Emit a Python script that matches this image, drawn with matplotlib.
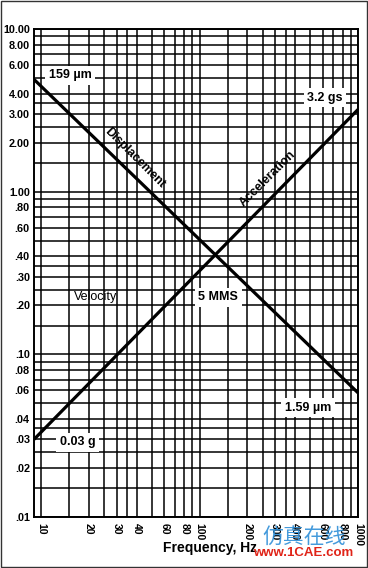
#vibration chart: displacement / velocity / acceleration on log-log paper
import matplotlib.pyplot as plt
from matplotlib.ticker import FixedLocator, NullFormatter
from matplotlib.patches import Rectangle

freq_ends=[9.0,1000.0]
displacement=[4.9,0.058]
acceleration=[0.03,3.2]
xticks=[10,20,30,40,60,80,100,200,300,400,600,800,1000]
xlabels=['10','20','30','40','60','80','100','200','300','400','600','800','1000']
yticks=[10,8,6,4,3,2,1,0.8,0.6,0.4,0.3,0.2,0.1,0.08,0.06,0.04,0.03,0.02,0.01]
ylabels=['10.00','8.00','6.00','4.00','3.00','2.00','1.00','.80','.60','.40','.30','.20',
         '.10','.08','.06','.04','.03','.02','.01']
steps=[1,1.5,2,2.5,3,3.5,4,5,6,7,8,9]
gridx=[s*d for d in (10,100) for s in steps]+[1000]
gridy=[s*d for d in (0.01,0.1,1) for s in steps]+[10]

plt.rcParams['font.family']=['Liberation Sans','DejaVu Sans']
fig=plt.figure(figsize=(3.68,5.68),dpi=100)
ax=fig.add_axes([34/368,51/568,324/368,488/568])
ax.set_xscale('log')
ax.set_yscale('log')
ax.set_xlim(9.0,1000)
ax.set_ylim(0.01,10)

ax.xaxis.set_major_locator(FixedLocator(xticks))
ax.xaxis.set_minor_locator(FixedLocator(gridx))
ax.xaxis.set_minor_formatter(NullFormatter())
ax.set_xticklabels(xlabels,rotation=270,fontsize=7.5,fontweight='bold')
ax.yaxis.set_major_locator(FixedLocator(yticks))
ax.yaxis.set_minor_locator(FixedLocator(gridy))
ax.yaxis.set_minor_formatter(NullFormatter())
ax.set_yticklabels(ylabels,fontsize=7.8,fontweight='bold')
ax.tick_params(which='both',length=0)
ax.tick_params(axis='x',pad=4)
ax.tick_params(axis='y',pad=3)
ax.grid(True,which='both',color='black',linewidth=1.1)
for s in ax.spines.values():
    s.set_linewidth(1.4)

ax.plot(freq_ends,displacement,color='black',linewidth=2.3,solid_capstyle='butt')
ax.plot(freq_ends,acceleration,color='black',linewidth=2.3,solid_capstyle='butt')

box=dict(facecolor='white',edgecolor='none',pad=2.5)
ax.text(15.2,5.2,'159 µm',fontsize=9,fontweight='bold',ha='center',va='center',bbox=box)
ax.text(620,3.77,'3.2 gs',fontsize=9,fontweight='bold',ha='center',va='center',bbox=box)
ax.text(483,0.0468,'1.59 µm',fontsize=9,fontweight='bold',ha='center',va='center',bbox=box)
ax.text(17.0,0.0289,'0.03 g',fontsize=9,fontweight='bold',ha='center',va='center',bbox=box)
ax.text(131,0.225,'5 MMS',fontsize=9,fontweight='bold',ha='center',va='center',bbox=box)
ax.text(22,0.224,'Velocity',fontsize=9,ha='center',va='center')
ax.text(39,1.6,'Displacement',fontsize=8.8,fontweight='bold',rotation=-45,ha='center',va='center')
ax.text(270,1.2,'Acceleration',fontsize=8.8,fontweight='bold',rotation=45,ha='center',va='center')

fig.text(210/368,1-548/568,'Frequency, Hz',fontsize=10,fontweight='bold',ha='center',va='center')
fig.text(304/368,1-538/568,'仿真在线',fontsize=15,color='#2f8fd8',alpha=0.9,
         family=['Noto Sans CJK SC'],ha='center',va='center',style='italic')
fig.text(303/368,1-553/568,'www.1CAE.com',fontsize=9.5,color='#e02418',fontweight='bold',
         ha='center',va='center')
fig.patches.append(Rectangle((0.002,0.002),0.996,0.996,transform=fig.transFigure,
                             fill=False,edgecolor='#333333',linewidth=1))
fig.savefig('out.png',dpi=100)
